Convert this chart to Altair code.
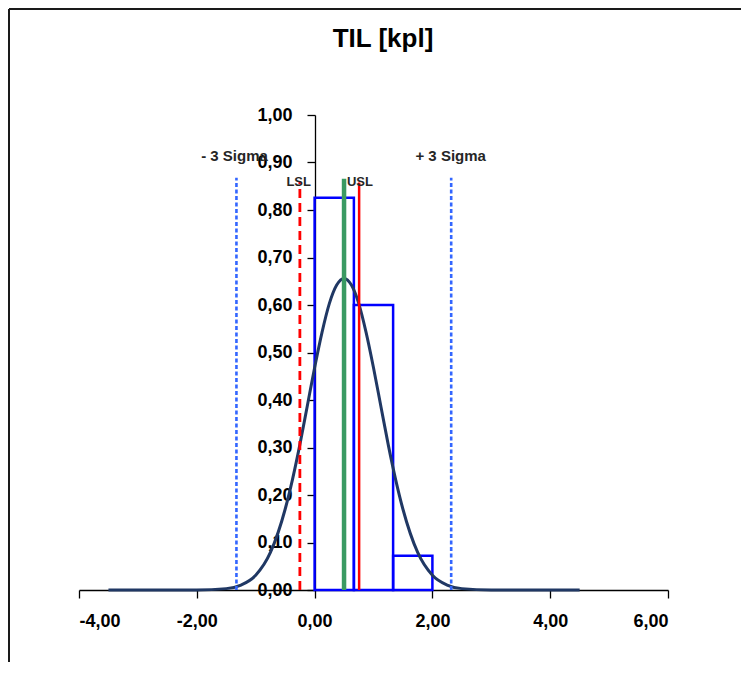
import altair as alt
import pandas as pd

# ---- data ----
title_text = "TIL [kpl]"

x_ticks = [-4, -2, 0, 2, 4, 6]
y_ticks = [0.0, 0.1, 0.2, 0.3, 0.4, 0.5, 0.6, 0.7, 0.8, 0.9, 1.0]

bin_start = [0.0, 0.667, 1.333]
bin_end = [0.667, 1.333, 2.0]
bin_height = [0.826, 0.600, 0.072]

curve_x = [-3.5, -2.0, -1.5, -1.25, -1.0, -0.75, -0.5, -0.375, -0.25, -0.125, 0.0,
           0.125, 0.25, 0.375, 0.5, 0.625, 0.75, 0.875, 1.0, 1.125, 1.25, 1.375,
           1.5, 1.75, 2.0, 2.25, 2.5, 3.0, 4.5]
curve_y = [0.0, 0.0001, 0.0029, 0.0104, 0.031, 0.079, 0.170, 0.233, 0.306, 0.387, 0.468,
           0.542, 0.603, 0.642, 0.656, 0.642, 0.603, 0.542, 0.468, 0.387, 0.306, 0.233,
           0.170, 0.079, 0.031, 0.0104, 0.0029, 0.0001, 0.0]

sigma_x = [-1.327, 2.319]
sigma_top = [0.868, 0.868]
lsl_x = [-0.25]
lsl_top = [0.860]
usl_x = [0.756]
usl_top = [0.858]
mean_x = [0.50]
mean_top = [0.866]

label_text = ["- 3 Sigma", "LSL", "USL", "+ 3 Sigma"]
label_x = [-1.36, -0.27, 0.77, 2.31]
label_y = [0.914, 0.860, 0.860, 0.914]
label_size = [15, 13, 13, 15]

# ---- tables ----
bars = pd.DataFrame({"x0": bin_start, "x1": bin_end, "h": bin_height})
curve = pd.DataFrame({"x": curve_x, "y": curve_y})
labels = pd.DataFrame({"text": label_text, "x": label_x, "y": label_y, "size": label_size})
one = pd.DataFrame({"t": [title_text]})


def vline(xs, tops):
    return pd.DataFrame({"x": xs, "top": tops, "base": [0.0] * len(xs)})


FONT = "Liberation Sans"
W, H = 589, 475

fmt = "replace(replace(format(datum.value, '.2f'), '.', ','), '\u2212', '-')"

xscale = alt.Scale(domain=[-4, 6], nice=False, zero=False)
yscale = alt.Scale(domain=[0, 1], nice=False)

xaxis = alt.Axis(values=x_ticks, labelExpr=fmt, tickSize=8, labelPadding=14,
                 labelFont=FONT, labelFontSize=18, labelFontWeight="bold",
                 labelColor="black", domainColor="black", tickColor="black",
                 domainWidth=1.3, tickWidth=1.3, grid=False, title=None)
yaxis = alt.Axis(values=y_ticks, labelExpr=fmt, tickSize=8, labelPadding=15,
                 offset=-236, labelFont=FONT, labelFontSize=18, labelFontWeight="bold",
                 labelColor="black", domainColor="black", tickColor="black",
                 domainWidth=1.3, tickWidth=1.3, grid=False, title=None)

bar_layer = alt.Chart(bars).mark_rect(fill=None, stroke="#0000FF", strokeWidth=2.5).encode(
    x=alt.X("x0:Q", scale=xscale, axis=xaxis),
    x2="x1:Q",
    y=alt.Y("h:Q", scale=yscale, axis=yaxis),
    y2=alt.datum(0),
)

curve_layer = alt.Chart(curve).mark_line(color="#203864", strokeWidth=3,
                                         interpolate="monotone").encode(
    x="x:Q", y="y:Q"
)


def rule_layer(df, color, width, dash=None):
    kw = dict(color=color, strokeWidth=width)
    if dash is not None:
        kw["strokeDash"] = dash
    return alt.Chart(df).mark_rule(**kw).encode(x="x:Q", y="base:Q", y2="top:Q")


sigma_layer = rule_layer(vline(sigma_x, sigma_top), "#3366FF", 2.6, [4, 2.5])
lsl_layer = rule_layer(vline(lsl_x, lsl_top), "#FF0000", 2.8, [9, 5])
mean_layer = rule_layer(vline(mean_x, mean_top), "#3A9A62", 4.5)
usl_layer = rule_layer(vline(usl_x, usl_top), "#FF0000", 2.5)

label_layer = alt.Chart(labels).mark_text(font=FONT, fontWeight="bold", color="#262626",
                                          align="center", baseline="middle").encode(
    x="x:Q", y="y:Q", text="text:N",
    size=alt.Size("size:Q", scale=None, legend=None),
)

title_layer = alt.Chart(one).mark_text(font=FONT, fontWeight="bold", fontSize=26,
                                       color="black", align="center",
                                       baseline="alphabetic").encode(
    x=alt.value(304), y=alt.value(-68), text="t:N"
)

frame_left = alt.Chart(one).mark_rule(color="#1a1a1a", strokeWidth=2).encode(
    x=alt.value(-70), y=alt.value(-106), y2=alt.value(620)
)
frame_top = alt.Chart(one).mark_rule(color="#1a1a1a", strokeWidth=2).encode(
    x=alt.value(-70), x2=alt.value(720), y=alt.value(-106)
)

chart = alt.layer(
    bar_layer, curve_layer, sigma_layer, lsl_layer, usl_layer, mean_layer,
    label_layer, title_layer, frame_left, frame_top
).properties(
    width=W, height=H,
    autosize=alt.AutoSizeParams(type="none"),
    padding={"left": 71, "top": 107, "right": 73, "bottom": 72},
).configure(
    background="white",
    view=alt.ViewConfig(stroke="transparent", strokeWidth=0),
)

chart.save("out.html", embed_options={"renderer": "svg", "actions": False})
